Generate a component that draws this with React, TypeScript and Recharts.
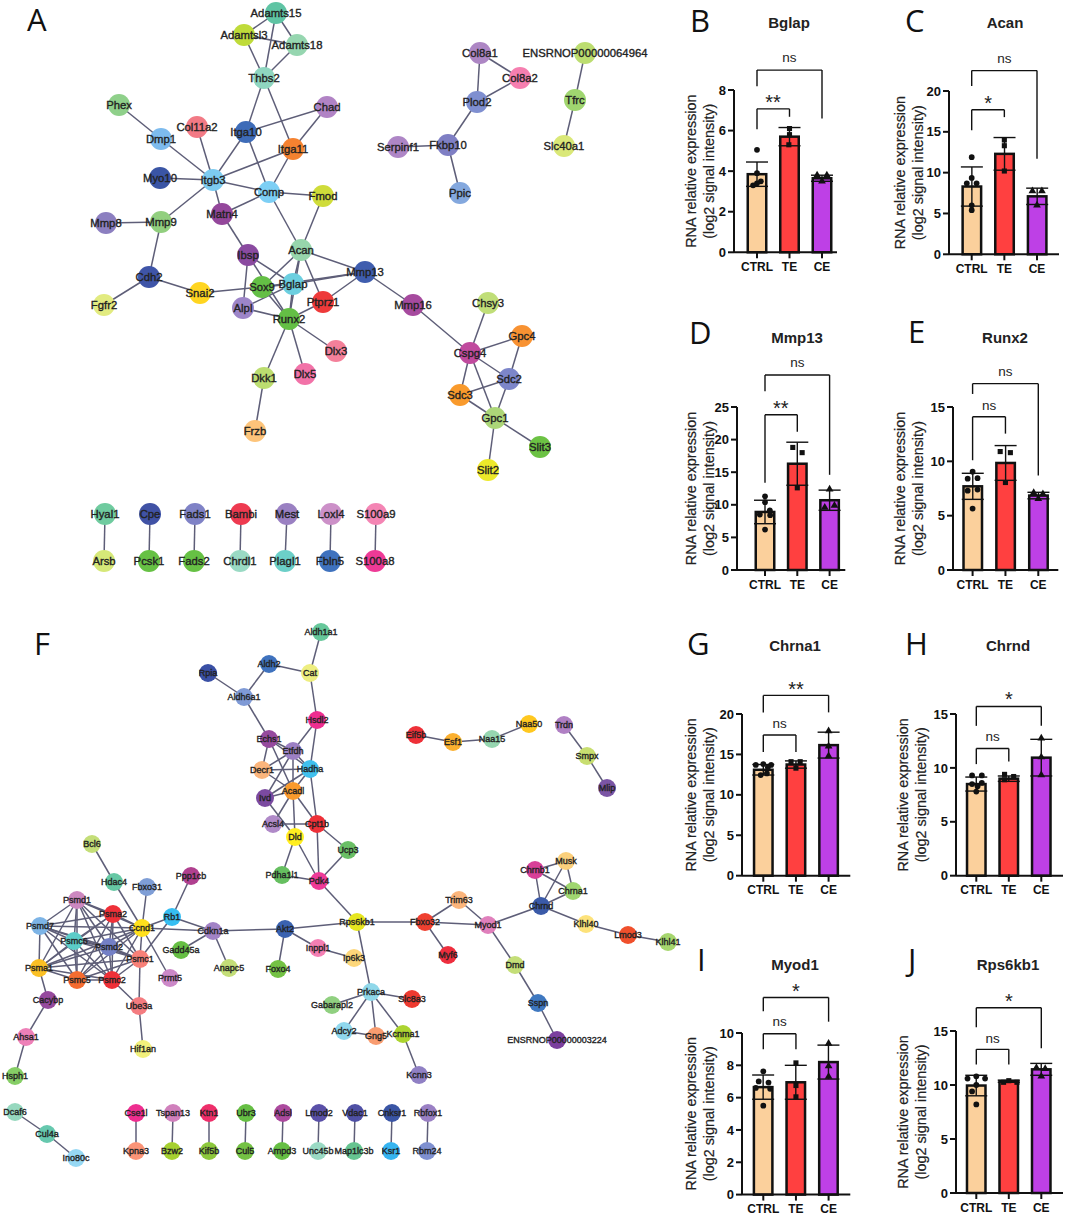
import {
  Bar,
  ComposedChart,
  ErrorBar,
  ReferenceDot,
  ReferenceLine,
  Scatter,
  ScatterChart,
  XAxis,
  YAxis,
  ZAxis,
} from 'recharts'

const FONT = '"Liberation Sans", Arial, sans-serif'

// ---- network A ----
const netANames = [
  'Adamts15', 'Adamtsl3', 'Adamts18', 'Thbs2', 'Phex', 'Chad', 'Dmp1', 'Col11a2', 'Itga10', 'Itga11',
  'Myo10', 'Itgb3', 'Comp', 'Fmod', 'Matn4', 'Mmp8', 'Mmp9', 'Ibsp', 'Acan', 'Cdh2',
  'Fgfr2', 'Snai2', 'Sox9', 'Bglap', 'Mmp13', 'Alpl', 'Ptprz1', 'Runx2', 'Dlx3', 'Dlx5',
  'Dkk1', 'Frzb', 'Mmp16', 'Chsy3', 'Gpc4', 'Cspg4', 'Sdc2', 'Sdc3', 'Gpc1', 'Slit3',
  'Slit2', 'Col8a1', 'Col8a2', 'ENSRNOP00000064964', 'Plod2', 'Tfrc', 'Fkbp10', 'Serpinf1', 'Slc40a1', 'Ppic',
  'Hyal1', 'Arsb', 'Cpe', 'Pcsk1', 'Fads1', 'Fads2', 'Bambi', 'Chrdl1', 'Mest', 'Plagl1',
  'Loxl4', 'Fbln5', 'S100a9', 'S100a8',
]
const netAX = [
  276, 244, 297, 264, 119, 327, 161, 197, 246, 293,
  160, 213, 269, 323, 222, 106, 161, 248, 301, 149,
  104, 200, 262, 293, 365, 243, 323, 289, 336, 305,
  264, 255, 413, 488, 522, 470, 509, 460, 495, 540,
  488, 480, 520, 585, 477, 575, 448, 398, 564, 460,
  105, 104, 150, 149, 195, 194, 241, 240, 287, 285,
  331, 330, 376, 375,
]
const netAY = [
  13, 35, 45, 78, 105, 107, 139, 127, 132, 149,
  178, 180, 192, 196, 214, 223, 222, 255, 250, 277,
  305, 293, 287, 284, 272, 308, 302, 319, 351, 374,
  378, 431, 305, 303, 336, 353, 379, 395, 418, 447,
  470, 53, 78, 53, 102, 100, 145, 147, 146, 193,
  514, 561, 514, 561, 514, 561, 514, 561, 514, 561,
  514, 561, 514, 561,
]
const netAEdges = [
  'Adamts15 Adamtsl3', 'Adamts15 Adamts18', 'Adamts15 Thbs2', 'Adamtsl3 Adamts18', 'Adamtsl3 Thbs2', 'Adamts18 Thbs2',
  'Thbs2 Itga10', 'Thbs2 Itga11', 'Itga10 Chad', 'Itga11 Chad', 'Itga10 Itgb3', 'Itga10 Comp', 'Itga11 Itgb3', 'Itga11 Comp',
  'Phex Dmp1', 'Dmp1 Itgb3', 'Col11a2 Itgb3', 'Myo10 Itgb3', 'Itgb3 Comp', 'Itgb3 Mmp9', 'Itgb3 Matn4', 'Matn4 Comp',
  'Comp Fmod', 'Comp Acan', 'Fmod Acan', 'Mmp8 Mmp9', 'Mmp9 Cdh2', 'Cdh2 Fgfr2', 'Cdh2 Snai2', 'Snai2 Sox9',
  'Matn4 Ibsp', 'Ibsp Bglap', 'Ibsp Alpl', 'Ibsp Runx2', 'Acan Sox9', 'Acan Bglap', 'Acan Runx2', 'Acan Mmp13', 'Acan Ptprz1',
  'Sox9 Runx2', 'Sox9 Bglap', 'Bglap Alpl', 'Bglap Runx2', 'Bglap Mmp13', 'Sox9 Mmp13', 'Alpl Runx2', 'Runx2 Ptprz1',
  'Ptprz1 Mmp13', 'Runx2 Dlx3', 'Runx2 Dlx5', 'Runx2 Dkk1', 'Dkk1 Frzb', 'Mmp13 Mmp16', 'Mmp16 Cspg4',
  'Cspg4 Chsy3', 'Cspg4 Gpc4', 'Cspg4 Sdc2', 'Cspg4 Sdc3', 'Cspg4 Gpc1', 'Gpc4 Sdc2', 'Sdc2 Sdc3', 'Sdc2 Gpc1', 'Sdc3 Gpc1',
  'Gpc1 Slit3', 'Gpc1 Slit2', 'Col8a1 Col8a2', 'Col8a1 Plod2', 'Col8a2 Plod2', 'Plod2 Fkbp10', 'Fkbp10 Serpinf1', 'Fkbp10 Ppic',
  'ENSRNOP00000064964 Tfrc', 'Tfrc Slc40a1', 'Hyal1 Arsb', 'Cpe Pcsk1', 'Fads1 Fads2', 'Bambi Chrdl1', 'Mest Plagl1',
  'Loxl4 Fbln5', 'S100a9 S100a8',
]

// ---- network F ----
const netFNames = [
  'Aldh1a1', 'Aldh2', 'Cat', 'Rpia', 'Aldh6a1', 'Hsdl2', 'Echs1', 'Etfdh', 'Decr1', 'Hadha',
  'Acadl', 'Ivd', 'Acsl4', 'Cpt1b', 'Dld', 'Ucp3', 'Pdha1l1', 'Pdk4', 'Eif5b', 'Esf1',
  'Naa15', 'Naa50', 'Trdn', 'Smpx', 'Mlip', 'Rps6kb1', 'Fbxo32', 'Trim63', 'Myod1', 'Myf6',
  'Chrnb1', 'Musk', 'Chrna1', 'Chrnd', 'Klhl40', 'Lmod3', 'Klhl41', 'Dmd', 'Sspn', 'ENSRNOP00000003224',
  'Inppl1', 'Ip6k3', 'Prkaca', 'Gabarapl2', 'Slc8a3', 'Adcy2', 'Gng5', 'Kcnma1', 'Kcnn3', 'Bcl6',
  'Hdac4', 'Fbxo31', 'Ppp1cb', 'Psmd1', 'Psma2', 'Rb1', 'Ccnd1', 'Psmd7', 'Psmc6', 'Psmd2',
  'Cdkn1a', 'Akt2', 'Gadd45a', 'Psma1', 'Psmc1', 'Psmc5', 'Psmc2', 'Prmt5', 'Anapc5', 'Foxo4',
  'Cacybp', 'Ube3a', 'Ahsa1', 'Hif1an', 'Hsph1', 'Dcaf6', 'Cul4a', 'Ino80c', 'Cse1l', 'Kpna3',
  'Tspan13', 'Bzw2', 'Ktn1', 'Kif5b', 'Ubr3', 'Cul5', 'Adsl', 'Ampd3', 'Lmod2', 'Unc45b',
  'Vdac1', 'Map1lc3b', 'Cnksr1', 'Ksr1', 'Rbfox1', 'Rbm24',
]
const netFX = [
  321, 269, 310, 208, 244, 317, 269, 293, 262, 310,
  293, 265, 273, 317, 295, 348, 282, 319, 416, 453,
  492, 529, 564, 587, 607, 357, 425, 459, 488, 448,
  535, 566, 573, 541, 586, 628, 668, 515, 538, 557,
  318, 354, 371, 332, 412, 344, 376, 403, 419, 92,
  114, 147, 191, 77, 113, 172, 142, 40, 74, 109,
  213, 285, 181, 39, 140, 77, 112, 170, 229, 278,
  48, 139, 26, 143, 15, 15, 47, 76, 136, 136,
  173, 172, 209, 209, 246, 245, 283, 282, 319, 318,
  355, 354, 392, 391, 428, 427,
]
const netFY = [
  632, 664, 673, 673, 697, 720, 739, 751, 770, 769,
  791, 798, 824, 824, 837, 850, 875, 881, 735, 742,
  739, 724, 725, 756, 788, 922, 922, 900, 925, 955,
  870, 861, 891, 906, 924, 935, 942, 965, 1003, 1040,
  948, 958, 992, 1005, 999, 1031, 1036, 1034, 1075, 844,
  882, 887, 876, 900, 914, 917, 928, 926, 941, 947,
  931, 929, 950, 968, 959, 980, 980, 978, 968, 969,
  1000, 1006, 1037, 1049, 1076, 1112, 1134, 1158, 1113, 1151,
  1113, 1151, 1113, 1151, 1113, 1151, 1113, 1151, 1113, 1151,
  1113, 1151, 1113, 1151, 1113, 1151,
]
const proteasomeGroup = ['Psmd1', 'Psma2', 'Psmd7', 'Psmc6', 'Psmd2', 'Psma1', 'Psmc1', 'Psmc5', 'Psmc2', 'Ccnd1']
const netFEdges = [
  'Aldh1a1 Cat', 'Aldh2 Cat', 'Aldh2 Aldh6a1', 'Rpia Aldh6a1', 'Aldh6a1 Echs1', 'Cat Hsdl2', 'Hsdl2 Etfdh', 'Hsdl2 Hadha',
  'Echs1 Etfdh', 'Echs1 Hadha', 'Echs1 Decr1', 'Echs1 Acadl', 'Etfdh Decr1', 'Etfdh Hadha', 'Etfdh Acadl', 'Etfdh Ivd',
  'Decr1 Hadha', 'Decr1 Acadl', 'Hadha Acadl', 'Hadha Ivd', 'Hadha Cpt1b', 'Acadl Ivd', 'Acadl Acsl4', 'Acadl Cpt1b',
  'Acadl Dld', 'Ivd Dld', 'Acsl4 Cpt1b', 'Cpt1b Ucp3', 'Cpt1b Pdk4', 'Dld Pdha1l1', 'Dld Pdk4', 'Ucp3 Pdk4', 'Pdha1l1 Pdk4',
  'Pdk4 Rps6kb1', 'Rps6kb1 Akt2', 'Rps6kb1 Fbxo32', 'Rps6kb1 Prkaca', 'Fbxo32 Trim63', 'Fbxo32 Myod1', 'Fbxo32 Myf6',
  'Trim63 Myod1', 'Myod1 Chrnd', 'Myod1 Dmd', 'Dmd Sspn', 'Sspn ENSRNOP00000003224', 'Chrnb1 Musk', 'Chrnb1 Chrna1',
  'Chrnb1 Chrnd', 'Musk Chrna1', 'Musk Chrnd', 'Chrna1 Chrnd', 'Chrnd Klhl40', 'Klhl40 Lmod3', 'Lmod3 Klhl41',
  'Akt2 Cdkn1a', 'Akt2 Inppl1', 'Akt2 Foxo4', 'Inppl1 Ip6k3', 'Prkaca Gabarapl2', 'Prkaca Slc8a3', 'Prkaca Adcy2',
  'Prkaca Gng5', 'Prkaca Kcnma1', 'Adcy2 Gng5', 'Kcnma1 Kcnn3', 'Cdkn1a Rb1', 'Cdkn1a Ccnd1', 'Cdkn1a Gadd45a',
  'Cdkn1a Anapc5', 'Rb1 Ppp1cb', 'Rb1 Ccnd1', 'Rb1 Psmc1', 'Ccnd1 Hdac4', 'Hdac4 Bcl6', 'Ccnd1 Fbxo31', 'Ccnd1 Prmt5',
  'Psma1 Cacybp', 'Cacybp Ahsa1', 'Ahsa1 Hsph1', 'Psmc2 Ube3a', 'Psmc1 Ube3a', 'Ube3a Hif1an', 'Eif5b Esf1', 'Esf1 Naa15',
  'Naa15 Naa50', 'Trdn Smpx', 'Smpx Mlip', 'Dcaf6 Cul4a', 'Cul4a Ino80c', 'Cse1l Kpna3', 'Tspan13 Bzw2', 'Ktn1 Kif5b',
  'Ubr3 Cul5', 'Adsl Ampd3', 'Lmod2 Unc45b', 'Vdac1 Map1lc3b', 'Cnksr1 Ksr1', 'Rbfox1 Rbm24',
]

const nodeColors: Record<string, string> = {
  Adamts15: '#5FC4A4', Adamtsl3: '#BFDB3A', Adamts18: '#96D6B0', Thbs2: '#8FD6C0', Phex: '#8FD08A', Chad: '#B183C5',
  Dmp1: '#7DBBEE', Col11a2: '#F27A85', Itga10: '#3E6CB8', Itga11: '#F58230', Myo10: '#3A55A5', Itgb3: '#7DCBF0',
  Comp: '#7DCFF5', Fmod: '#CFDC3A', Matn4: '#94479B', Mmp8: '#8C7FC0', Mmp9: '#92CF7F', Ibsp: '#8A4AA0', Acan: '#97D5AC',
  Cdh2: '#3F55A8', Fgfr2: '#E2EB80', Snai2: '#FFD520', Sox9: '#64BF45', Bglap: '#6CCFE0', Mmp13: '#3F5DAE', Alpl: '#9D85C8',
  Ptprz1: '#EE3A3A', Runx2: '#64BF45', Dlx3: '#F4809A', Dlx5: '#F272A8', Dkk1: '#BCDD70', Frzb: '#FDC47A', Mmp16: '#A64A9E',
  Chsy3: '#C0DE78', Gpc4: '#F89232', Cspg4: '#C04A9E', Sdc2: '#7D86CA', Sdc3: '#F99A2C', Gpc1: '#ACD678', Slit3: '#6CC244',
  Slit2: '#EDE92A', Col8a1: '#AD86C4', Col8a2: '#F67FB0', ENSRNOP00000064964: '#BCDD70', Plod2: '#7F8FD0', Tfrc: '#A0D670',
  Fkbp10: '#7F7FC4', Serpinf1: '#AE86C6', Slc40a1: '#DAE878', Ppic: '#84A8DE', Hyal1: '#6FCB9F', Arsb: '#D6E878', Cpe: '#4052A5',
  Pcsk1: '#66C144', Fads1: '#7F82C6', Fads2: '#66C144', Bambi: '#EE3A50', Chrdl1: '#9ADAC4', Mest: '#9A80C2', Plagl1: '#6CCFC8',
  Loxl4: '#CC90C8', Fbln5: '#3F72BE', S100a9: '#F485B4', S100a8: '#EE3A96',
  Aldh1a1: '#66C79A', Aldh2: '#3F72BE', Cat: '#EEEE80', Rpia: '#3A50A5', Aldh6a1: '#7F9AD6', Hsdl2: '#EE2E90', Echs1: '#964A9E',
  Etfdh: '#9C80C4', Decr1: '#FBB57C', Hadha: '#40C0EE', Acadl: '#F99A2C', Ivd: '#7B4AA0', Acsl4: '#B08AC8', Cpt1b: '#EE3038',
  Dld: '#FFEE20', Ucp3: '#6ABF66', Pdha1l1: '#66BF60', Pdk4: '#EE3A98', Eif5b: '#EE3038', Esf1: '#FBB030', Naa15: '#96D6B0',
  Naa50: '#FFC820', Trdn: '#B080C4', Smpx: '#C8DE70', Mlip: '#7B55A5', Rps6kb1: '#E6E620', Fbxo32: '#EF4030', Trim63: '#FBB57C',
  Myod1: '#E080BC', Myf6: '#EE2E3E', Chrnb1: '#D84098', Musk: '#FBD07C', Chrna1: '#A0D670', Chrnd: '#3A5AA8', Klhl40: '#FDE27A',
  Lmod3: '#F0502C', Klhl41: '#A6D66E', Dmd: '#C4DE78', Sspn: '#3F78C0', ENSRNOP00000003224: '#7B3F9E', Inppl1: '#F47FB4',
  Ip6k3: '#FDD77A', Prkaca: '#90D8EA', Gabarapl2: '#90D080', Slc8a3: '#EE3A30', Adcy2: '#90D8EE', Gng5: '#F89C70', Kcnma1: '#ACD430',
  Kcnn3: '#9080C4', Bcl6: '#C4DE78', Hdac4: '#66C8A4', Fbxo31: '#7F9ED6', Ppp1cb: '#B0408F', Psmd1: '#CC88C0', Psma2: '#EE3038',
  Rb1: '#36BEF2', Ccnd1: '#FFE01C', Psmd7: '#7DB4E6', Psmc6: '#5CCCC8', Psmd2: '#7480C6', Cdkn1a: '#A283C6', Akt2: '#3A62B0',
  Gadd45a: '#66BF44', Psma1: '#FBC024', Psmc1: '#F88078', Psmc5: '#F56C30', Psmc2: '#EE3038', Prmt5: '#CC88C8', Anapc5: '#C4DE78',
  Foxo4: '#74C244', Cacybp: '#964A9E', Ube3a: '#F47C80', Ahsa1: '#EE80B8', Hif1an: '#F2F07C', Hsph1: '#86CE66', Dcaf6: '#96D8BE',
  Cul4a: '#66C8AE', Ino80c: '#96D8F4', Cse1l: '#EE2E90', Kpna3: '#FB9478', Tspan13: '#D080BC', Bzw2: '#A6D030', Ktn1: '#EE2E6A',
  Kif5b: '#8CC83C', Ubr3: '#66BF44', Cul5: '#74C244', Adsl: '#AC4A9E', Ampd3: '#66BF44', Lmod2: '#5A50A8', Unc45b: '#9ADAC4',
  Vdac1: '#4F50A5', Map1lc3b: '#66C490', Cnksr1: '#3A55A5', Ksr1: '#36B4F0', Rbfox1: '#9A80C4', Rbm24: '#7F90D0',
}

// ---- bar panels ----
const groups = ['CTRL', 'TE', 'CE']
const groupColors = ['#FBD09C', '#FF4040', '#BE40E6']

const bglapBars = [3.85, 5.7, 3.65]
const bglapErrs = [0.6, 0.45, 0.15]
const bglapCtrl = [[1, 5.05], [1, 3.9], [1.12, 3.5], [0.88, 3.3], [1, 3.4]]
const bglapTe = [[2, 6.1], [2, 5.8], [1.98, 5.3]]
const bglapCe = [[2.85, 3.8], [3.15, 3.8], [3, 3.5]]
const bglapBrackets = [[1, 3, 8.98, 8.19, 6.6], [1, 2, 7.07, 6.07, 6.68]]
const bglapMarks = [['ns', 2, 9.6], ['**', 1.49, 7.62]]

const acanBars = [8.3, 12.3, 7.1]
const acanErrs = [2.4, 2.0, 1.0]
const acanCtrl = [[1, 11.9], [1, 9.35], [0.85, 8.7], [1.15, 8.7], [1, 6.0], [1, 5.4]]
const acanTe = [[2, 14], [2, 13.3], [2, 10.2]]
const acanCe = [[2.86, 7.75], [3.15, 7.75], [3, 6.0]]
const acanBrackets = [[1, 3, 22.5, 20.6, 11.7], [1, 2, 17.7, 15.2, 16.8]]
const acanMarks = [['ns', 2, 24], ['*', 1.5, 19.06]]

const mmp13Bars = [8.9, 16.3, 10.7]
const mmp13Errs = [1.8, 3.3, 1.55]
const mmp13Ctrl = [[1, 11.3], [1, 10.4], [1.15, 9.15], [0.84, 8.5], [1.16, 8.4], [1, 6.2]]
const mmp13Te = [[1.86, 18.8], [2.15, 18], [2, 12.6]]
const mmp13Ce = [[3, 12.4], [2.85, 9.6], [3.15, 9.9]]
const mmp13Brackets = [[1, 3, 29.9, 27.4, 14.6], [1, 2, 23.8, 13.4, 21.2]]
const mmp13Marks = [['ns', 2, 31.8], ['**', 1.49, 25.4]]

const runx2Bars = [7.7, 9.85, 6.85]
const runx2Errs = [1.2, 1.6, 0.3]
const runx2Ctrl = [[1, 9.05], [0.85, 8.4], [1.15, 8.45], [0.85, 7.3], [1.15, 7.4], [1, 5.65]]
const runx2Te = [[1.84, 10.9], [2.15, 10.8], [2, 8.05]]
const runx2Ce = [[2.86, 7.1], [3.14, 7.0], [3, 6.55]]
const runx2Brackets = [[1, 3, 17.15, 16.2, 8.7], [1, 2, 14.1, 10.1, 12.55]]
const runx2Marks = [['ns', 2, 18.3], ['ns', 1.5, 15.15]]

const chrna1Bars = [13.1, 13.75, 16.15]
const chrna1Errs = [0.65, 0.45, 1.6]
const chrna1Ctrl = [[0.77, 13.7], [1, 13.8], [1.24, 13.7], [1.14, 13.4], [0.92, 12.45], [1.11, 12.65]]
const chrna1Te = [[1.85, 14.1], [2.13, 14.1], [2, 13.3]]
const chrna1Ce = [[3, 17.9], [3, 16.0], [3, 14.8]]
const chrna1Brackets = [[1, 3, 22.3, 20.2, 20.2], [1, 2, 17.4, 15.3, 15.3]]
const chrna1Marks = [['**', 2, 23.6], ['ns', 1.5, 18.85]]

const chrndBars = [8.5, 9.0, 10.95]
const chrndErrs = [0.65, 0.25, 1.7]
const chrndCtrl = [[0.87, 9.3], [1.17, 9.3], [1.17, 8.6], [0.87, 8.5], [1.04, 8.3], [1, 7.8]]
const chrndTe = [[1.87, 9.4], [2.15, 9.2], [1.87, 8.9]]
const chrndCe = [[3, 12.75], [3, 11], [3, 9.35]]
const chrndBrackets = [[1, 3, 15.7, 13.9, 13.9], [1, 2, 11.8, 10.35, 10.6]]
const chrndMarks = [['*', 2, 16.8], ['ns', 1.5, 12.9]]

const myod1Bars = [6.65, 6.95, 8.2]
const myod1Errs = [0.75, 1.05, 1.05]
const myod1Ctrl = [[1, 7.63], [0.86, 7.0], [1.16, 6.93], [0.77, 6.6], [1.21, 6.55], [1, 5.5]]
const myod1Te = [[2, 8.15], [2, 6.75], [2, 6.05]]
const myod1Ce = [[3, 9.35], [3, 7.95], [3, 7.3]]
const myod1Brackets = [[1, 3, 12.2, 11.35, 10.7], [1, 2, 9.95, 9.0, 9.0]]
const myod1Marks = [['*', 2, 12.85], ['ns', 1.5, 10.7]]

const rps6kb1Bars = [9.95, 10.35, 11.45]
const rps6kb1Errs = [0.95, 0.1, 0.55]
const rps6kb1Ctrl = [[1, 10.8], [0.73, 10.6], [1.27, 10.6], [1, 10], [0.87, 9.4], [1, 8.2]]
const rps6kb1Te = [[1.84, 10.25], [2, 10.4], [2.25, 10.25]]
const rps6kb1Ce = [[2.85, 11.6], [3.12, 11.5], [3, 10.8]]
const rps6kb1Brackets = [[1, 3, 17.15, 15.35, 13.4], [1, 2, 13.3, 11.9, 11.9]]
const rps6kb1Marks = [['*', 2, 18.2], ['ns', 1.5, 14.35]]

const panels = [
  { title: 'Bglap', titleX: 789, titleY: 22, ticks: [0, 2, 4, 6, 8], bars: bglapBars, errs: bglapErrs, ctrl: bglapCtrl, te: bglapTe, ce: bglapCe, brackets: bglapBrackets, marks: bglapMarks, axisX: 734, rightX: 837, topY: 90, zeroY: 252.3, c1: 757, c3: 822, labelGap: 43 },
  { title: 'Acan', titleX: 1005, titleY: 22, ticks: [0, 5, 10, 15, 20], bars: acanBars, errs: acanErrs, ctrl: acanCtrl, te: acanTe, ce: acanCe, brackets: acanBrackets, marks: acanMarks, axisX: 949, rightX: 1059, topY: 90.7, zeroY: 254, c1: 971.7, c3: 1037, labelGap: 49 },
  { title: 'Mmp13', titleX: 797, titleY: 337, ticks: [0, 5, 10, 15, 20, 25], bars: mmp13Bars, errs: mmp13Errs, ctrl: mmp13Ctrl, te: mmp13Te, ce: mmp13Ce, brackets: mmp13Brackets, marks: mmp13Marks, axisX: 736.7, rightX: 845, topY: 406.7, zeroY: 569.7, c1: 764.7, c3: 829.3, labelGap: 46 },
  { title: 'Runx2', titleX: 1005, titleY: 337, ticks: [0, 5, 10, 15], bars: runx2Bars, errs: runx2Errs, ctrl: runx2Ctrl, te: runx2Te, ce: runx2Ce, brackets: runx2Brackets, marks: runx2Marks, axisX: 952.7, rightX: 1058, topY: 406.7, zeroY: 569.7, c1: 972.3, c3: 1038, labelGap: 53 },
  { title: 'Chrna1', titleX: 795, titleY: 645, ticks: [0, 5, 10, 15, 20], bars: chrna1Bars, errs: chrna1Errs, ctrl: chrna1Ctrl, te: chrna1Te, ce: chrna1Ce, brackets: chrna1Brackets, marks: chrna1Marks, axisX: 741.7, rightX: 850, topY: 714, zeroY: 875.7, c1: 763, c3: 828.3, labelGap: 51 },
  { title: 'Chrnd', titleX: 1008, titleY: 645, ticks: [0, 5, 10, 15], bars: chrndBars, errs: chrndErrs, ctrl: chrndCtrl, te: chrndTe, ce: chrndCe, brackets: chrndBrackets, marks: chrndMarks, axisX: 955.7, rightX: 1062.7, topY: 714, zeroY: 875.7, c1: 976, c3: 1041, labelGap: 53 },
  { title: 'Myod1', titleX: 795, titleY: 964, ticks: [0, 2, 4, 6, 8, 10], bars: myod1Bars, errs: myod1Errs, ctrl: myod1Ctrl, te: myod1Te, ce: myod1Ce, brackets: myod1Brackets, marks: myod1Marks, axisX: 741.7, rightX: 850, topY: 1032.7, zeroY: 1194.3, c1: 763, c3: 828.3, labelGap: 51 },
  { title: 'Rps6kb1', titleX: 1008, titleY: 964, ticks: [0, 5, 10, 15], bars: rps6kb1Bars, errs: rps6kb1Errs, ctrl: rps6kb1Ctrl, te: rps6kb1Te, ce: rps6kb1Ce, brackets: rps6kb1Brackets, marks: rps6kb1Marks, axisX: 955.7, rightX: 1062.7, topY: 1031.3, zeroY: 1193.3, c1: 976, c3: 1041, labelGap: 53 },
]

const panelLetters = ['A', 'B', 'C', 'D', 'E', 'F', 'G', 'H', 'I', 'J']
const letterX = [27, 690, 905, 689, 908, 34, 687, 905, 697, 908]
const letterY = [19, 20, 20, 332, 331, 643, 643, 643, 959, 959]

const toNodes = (names: string[], xs: number[], ys: number[]) =>
  names.map((name, i) => ({ name, x: xs[i], y: ys[i] }))

const nodesA = toNodes(netANames, netAX, netAY)
const nodesF = toNodes(netFNames, netFX, netFY)
const nodeByName = new Map([...nodesA, ...nodesF].map((n) => [n.name, n]))

const proteasomeEdges = proteasomeGroup.flatMap((a, i) =>
  proteasomeGroup.slice(i + 1).map((b) => `${a} ${b}`),
)
const allEdges = [...netAEdges, ...netFEdges, ...proteasomeEdges]

const dotShape = (r: number) => (p: any) => (
  <circle cx={p.cx} cy={p.cy} r={r} fill={nodeColors[p.payload.name]} />
)

const labelShape = (size: number) => (p: any) => (
  <text
    x={p.cx}
    y={p.cy}
    dy="0.35em"
    textAnchor="middle"
    fontFamily={FONT}
    fontSize={size}
    fill="#222"
    stroke="#222"
    strokeWidth={0.35}
  >
    {p.payload.name}
  </text>
)

const noShape = () => <g />

function Networks() {
  return (
    <div style={{ position: 'absolute', left: 0, top: 0 }}>
      <ScatterChart width={1065} height={1216} margin={{ top: 0, right: 0, bottom: 0, left: 0 }}>
        <XAxis type="number" dataKey="x" domain={[0, 1065]} hide />
        <YAxis type="number" dataKey="y" domain={[0, 1216]} reversed hide />
        {allEdges.map((edge) => {
          const [a, b] = edge.split(' ')
          return (
            <Scatter
              key={edge}
              data={[nodeByName.get(a), nodeByName.get(b)]}
              line={{ stroke: '#5E5E78', strokeWidth: 1.5 }}
              shape={noShape}
              isAnimationActive={false}
            />
          )
        })}
        <Scatter data={nodesA} shape={dotShape(11)} isAnimationActive={false} />
        <Scatter data={nodesF} shape={dotShape(9)} isAnimationActive={false} />
        <Scatter data={nodesA} shape={labelShape(11.3)} isAnimationActive={false} />
        <Scatter data={nodesF} shape={labelShape(9)} isAnimationActive={false} />
      </ScatterChart>
    </div>
  )
}

const toPoints = (rows: number[][]) => rows.map(([x, y]) => ({ x, y }))

function AxisTitle({ viewBox, gap }: any) {
  const right = viewBox.x + viewBox.width
  const mid = viewBox.y + viewBox.height / 2
  const lines = ['RNA relative expression', '(log2 signal intensity)']
  return (
    <g>
      {lines.map((line, i) => {
        const x = right - gap + i * 18
        return (
          <text
            key={line}
            x={x}
            y={mid}
            dy="0.35em"
            transform={`rotate(-90 ${x} ${mid})`}
            textAnchor="middle"
            fontFamily={FONT}
            fontSize={14.4}
            fill="#222"
            stroke="#222"
            strokeWidth={0.2}
          >
            {line}
          </text>
        )
      })}
    </g>
  )
}

// the band size follows the jittered scatter x values, so the bar keeps its own width
const BAR_WIDTH = 18.5
const barShape = (p: any) => (
  <rect
    x={p.x + p.width / 2 - BAR_WIDTH / 2}
    y={p.y}
    width={BAR_WIDTH}
    height={p.height}
    fill={groupColors[p.index]}
    stroke="#111"
    strokeWidth={2.5}
  />
)

function BarPanel({ cfg }: { cfg: (typeof panels)[number] }) {
  const axisW = 60
  const topPad = 72
  const axisH = 30
  const unit = (cfg.c3 - cfg.c1) / 2
  const xDomain = [1 - (cfg.c1 - cfg.axisX) / unit, 3 + (cfg.rightX - cfg.c3) / unit]
  const yMax = cfg.ticks[cfg.ticks.length - 1]
  const data = groups.map((g, i) => ({ x: i + 1, y: cfg.bars[i], err: cfg.errs[i] }))

  return (
    <div style={{ position: 'absolute', left: cfg.axisX - axisW, top: cfg.topY - topPad }}>
      <ComposedChart
        width={cfg.rightX - cfg.axisX + axisW + 3}
        height={cfg.zeroY - cfg.topY + topPad + axisH}
        data={data}
        margin={{ top: topPad, right: 3, bottom: 0, left: 0 }}
      >
        <XAxis
          type="number"
          dataKey="x"
          domain={xDomain}
          ticks={[1, 2, 3]}
          tickFormatter={(v: number) => groups[v - 1]}
          height={axisH}
          interval={0}
          stroke="#111"
          strokeWidth={2}
          tickSize={6}
          tickMargin={4}
          tick={{ fontFamily: FONT, fontSize: 12, fontWeight: 700, fill: '#111' }}
        />
        <YAxis
          type="number"
          dataKey="y"
          domain={[0, yMax]}
          ticks={cfg.ticks}
          width={axisW}
          stroke="#111"
          strokeWidth={2}
          tickSize={6}
          tickMargin={2}
          tick={{ fontFamily: FONT, fontSize: 13, fontWeight: 700, fill: '#111' }}
          label={{ content: (p: any) => <AxisTitle viewBox={p.viewBox} gap={cfg.labelGap} /> }}
        />
        <ZAxis range={[26, 26]} />
        <Bar dataKey="y" shape={barShape} isAnimationActive={false}>
          <ErrorBar dataKey="err" direction="y" width={11} stroke="#111" strokeWidth={1.4} isAnimationActive={false} />
        </Bar>
        <Scatter data={toPoints(cfg.ctrl)} fill="#111" shape="circle" isAnimationActive={false} />
        <Scatter data={toPoints(cfg.te)} fill="#111" shape="square" isAnimationActive={false} />
        <Scatter data={toPoints(cfg.ce)} fill="#111" shape="triangle" isAnimationActive={false} />
        {cfg.brackets.map(([from, to, top, leftEnd]) => (
          <ReferenceLine
            key={`${from}-${to}-l`}
            segment={[{ x: from, y: leftEnd }, { x: from, y: top }]}
            ifOverflow="visible"
            stroke="#111"
            strokeWidth={1.4}
          />
        ))}
        {cfg.brackets.map(([from, to, top]) => (
          <ReferenceLine
            key={`${from}-${to}-t`}
            segment={[{ x: from, y: top }, { x: to, y: top }]}
            ifOverflow="visible"
            stroke="#111"
            strokeWidth={1.4}
          />
        ))}
        {cfg.brackets.map(([from, to, top, , rightEnd]) => (
          <ReferenceLine
            key={`${from}-${to}-r`}
            segment={[{ x: to, y: top }, { x: to, y: rightEnd }]}
            ifOverflow="visible"
            stroke="#111"
            strokeWidth={1.4}
          />
        ))}
        {cfg.marks.map(([text, x, y]) => (
          <ReferenceDot
            key={`${text}-${x}`}
            x={x as number}
            y={y as number}
            r={0}
            stroke="none"
            ifOverflow="visible"
            label={{
              value: text as string,
              position: 'center',
              fill: '#222',
              fontFamily: FONT,
              fontSize: text === 'ns' ? 13.5 : 20,
              dy: text === 'ns' ? 0 : 4,
            }}
          />
        ))}
      </ComposedChart>
    </div>
  )
}

export default function App() {
  return (
    <div style={{ position: 'absolute', left: 0, top: 0, width: 1065, height: 1216, background: '#fff', overflow: 'hidden' }}>
      <Networks />
      {panels.map((cfg) => (
        <BarPanel key={cfg.title} cfg={cfg} />
      ))}
      {panels.map((cfg) => (
        <div
          key={cfg.title}
          style={{
            position: 'absolute',
            left: cfg.titleX,
            top: cfg.titleY,
            transform: 'translate(-50%, -50%)',
            fontFamily: FONT,
            fontWeight: 700,
            fontSize: 15,
            color: '#222',
          }}
        >
          {cfg.title}
        </div>
      ))}
      {panelLetters.map((letter, i) => (
        <div
          key={letter}
          style={{
            position: 'absolute',
            left: letterX[i],
            top: letterY[i] - 12,
            fontFamily: '"Open Sans", sans-serif',
            fontSize: 31,
            lineHeight: '24px',
            color: '#111',
          }}
        >
          {letter}
        </div>
      ))}
    </div>
  )
}
